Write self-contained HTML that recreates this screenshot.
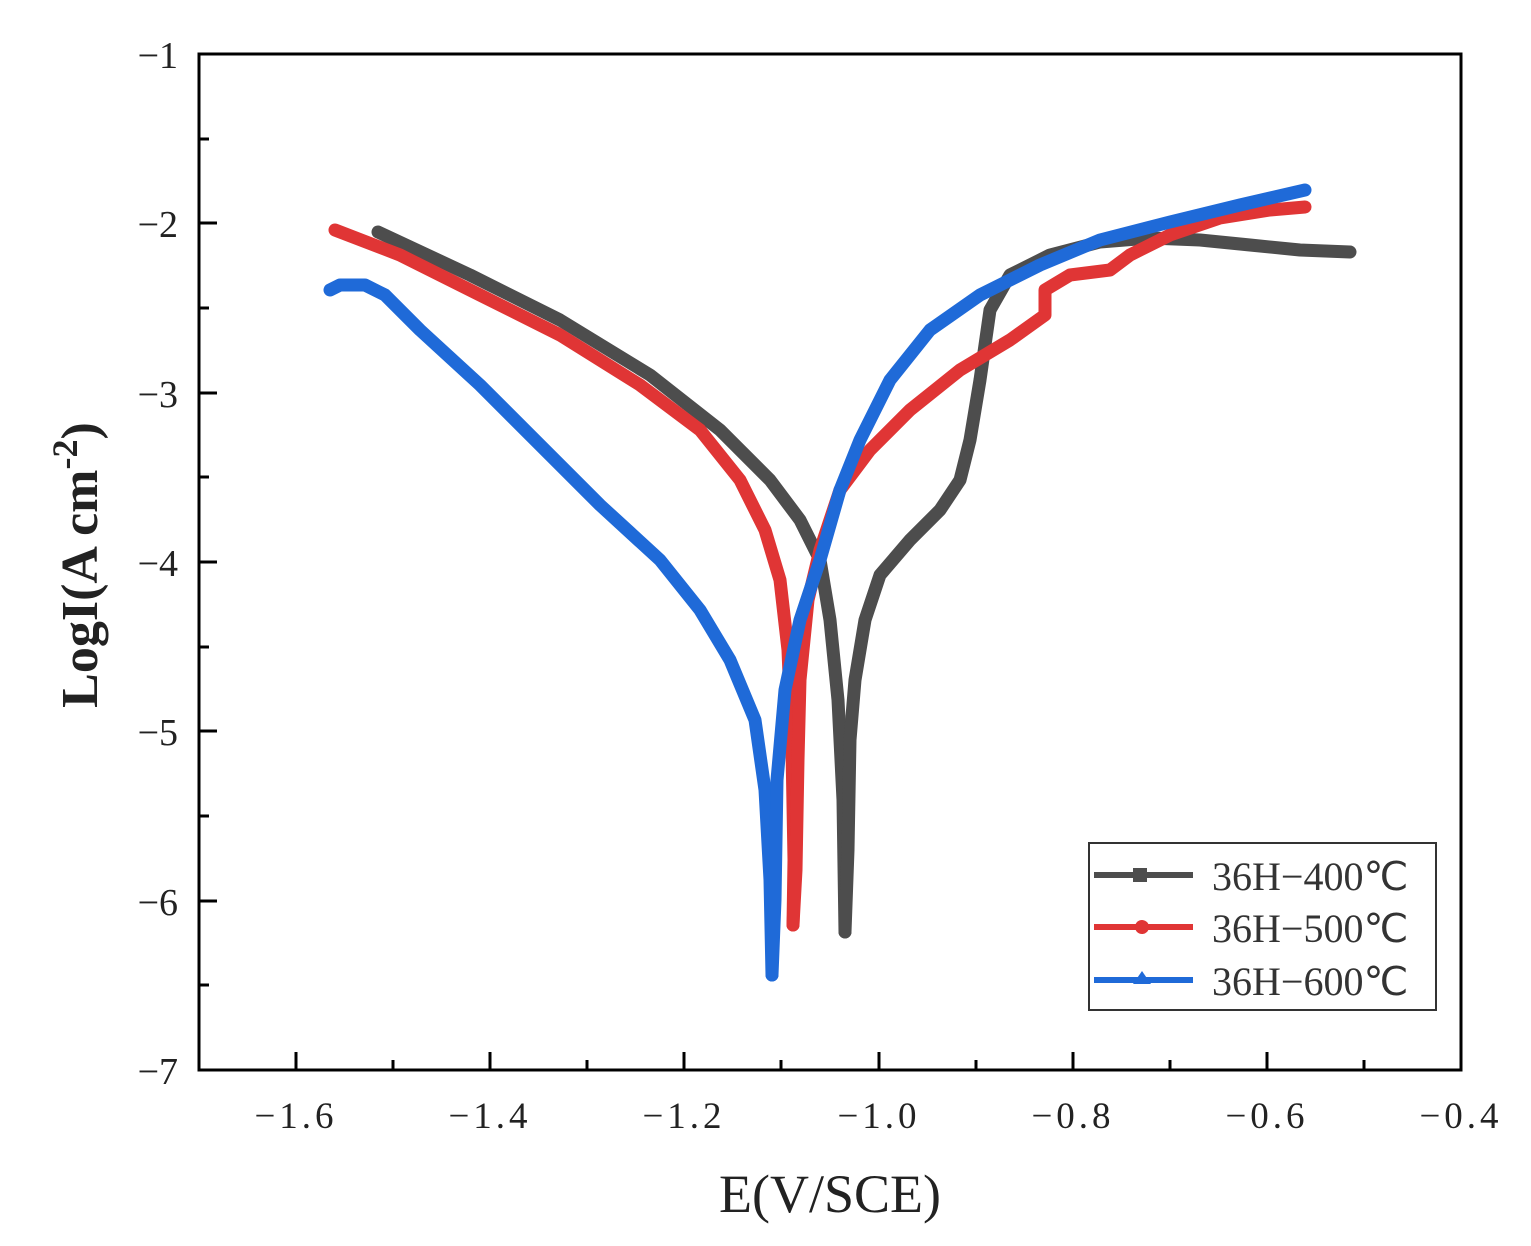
<!DOCTYPE html>
<html><head><meta charset="utf-8"><style>body{margin:0;background:#fff}svg{display:block}</style></head><body>
<svg width="1531" height="1246" viewBox="0 0 1531 1246" xmlns="http://www.w3.org/2000/svg" font-family="Liberation Serif, serif">
<rect width="1531" height="1246" fill="#fff"/>
<g fill="none" stroke-linejoin="round" stroke-linecap="round" stroke-width="13">
<polyline stroke="#4d4d4d" points="378,232 470,275 560,320 650,375 720,430 770,480 800,520 820,560 830,620 838,700 843,800 845,932"/>
<polyline stroke="#4d4d4d" points="845,932 848,850 850,740 855,680 865,620 880,575 910,540 940,510 960,480 970,440 980,380 990,310 1010,275 1050,255 1100,242 1150,238 1200,240 1250,245 1300,250 1350,252"/>
<polyline stroke="#e03535" points="335,230 400,255 480,295 560,335 640,385 700,430 740,480 765,530 780,580 788,650 792,750 794,860 793,925"/>
<polyline stroke="#e03535" points="793,925 796,870 798,760 800,680 808,600 820,550 840,490 870,450 910,410 960,370 1010,340 1045,315 1045,290 1070,275 1110,270 1130,255 1170,235 1220,218 1270,210 1305,207"/>
<polyline stroke="#1f6ad8" points="330,290 340,285 365,285 385,295 420,330 480,385 540,445 600,505 660,560 700,610 730,660 755,720 765,790 770,880 772,975"/>
<polyline stroke="#1f6ad8" points="772,975 775,900 777,780 785,690 800,620 820,560 840,490 860,440 890,380 930,330 980,295 1040,265 1100,240 1170,222 1240,205 1305,190"/>
</g>
<rect x="199" y="54" width="1262" height="1016" fill="none" stroke="#000" stroke-width="3"/>
<g stroke="#000" stroke-width="3">
<line x1="296" y1="1070" x2="296" y2="1052"/><line x1="490" y1="1070" x2="490" y2="1052"/><line x1="684" y1="1070" x2="684" y2="1052"/><line x1="879" y1="1070" x2="879" y2="1052"/><line x1="1073" y1="1070" x2="1073" y2="1052"/><line x1="1267" y1="1070" x2="1267" y2="1052"/>
<line x1="393" y1="1070" x2="393" y2="1060"/><line x1="587" y1="1070" x2="587" y2="1060"/><line x1="781" y1="1070" x2="781" y2="1060"/><line x1="976" y1="1070" x2="976" y2="1060"/><line x1="1170" y1="1070" x2="1170" y2="1060"/><line x1="1364" y1="1070" x2="1364" y2="1060"/>
<line x1="199" y1="223" x2="217" y2="223"/><line x1="199" y1="393" x2="217" y2="393"/><line x1="199" y1="562" x2="217" y2="562"/><line x1="199" y1="731" x2="217" y2="731"/><line x1="199" y1="901" x2="217" y2="901"/>
<line x1="199" y1="139" x2="209" y2="139"/><line x1="199" y1="308" x2="209" y2="308"/><line x1="199" y1="477" x2="209" y2="477"/><line x1="199" y1="647" x2="209" y2="647"/><line x1="199" y1="816" x2="209" y2="816"/><line x1="199" y1="985" x2="209" y2="985"/>
</g>
<g font-size="38" fill="#222" text-anchor="end">
<text x="178" y="68">−1</text><text x="178" y="237">−2</text><text x="178" y="407">−3</text><text x="178" y="576">−4</text><text x="178" y="745">−5</text><text x="178" y="915">−6</text><text x="178" y="1084">−7</text>
</g>
<g font-size="37" fill="#222" text-anchor="middle" letter-spacing="4">
<text x="296" y="1128">−1.6</text><text x="490" y="1128">−1.4</text><text x="684" y="1128">−1.2</text><text x="879" y="1128">−1.0</text><text x="1073" y="1128">−0.8</text><text x="1267" y="1128">−0.6</text><text x="1461" y="1128">−0.4</text>
</g>
<text x="830" y="1212" font-size="54" text-anchor="middle" fill="#222">E(V/SCE)</text>
<text transform="translate(97,565) rotate(-90)" font-size="52" font-weight="bold" text-anchor="middle" fill="#222">LogI(A cm<tspan dy="-20" font-size="36">-2</tspan><tspan dy="20">)</tspan></text>
<rect x="1089" y="843" width="347" height="167" fill="#fff" stroke="#333" stroke-width="2"/>
<g stroke-width="6">
<line x1="1094" y1="875" x2="1193" y2="875" stroke="#4d4d4d"/><rect x="1133" y="868" width="14" height="14" fill="#4d4d4d"/>
<line x1="1094" y1="927" x2="1193" y2="927" stroke="#e03535"/><circle cx="1142" cy="927" r="7" fill="#e03535"/>
<line x1="1094" y1="980" x2="1193" y2="980" stroke="#1f6ad8"/><polygon points="1142,971 1151,984 1133,984" fill="#1f6ad8"/>
</g>
<g font-size="40" fill="#333">
<text x="1212" y="890">36H−400℃</text><text x="1212" y="942">36H−500℃</text><text x="1212" y="995">36H−600℃</text>
</g>
</svg>
</body></html>
